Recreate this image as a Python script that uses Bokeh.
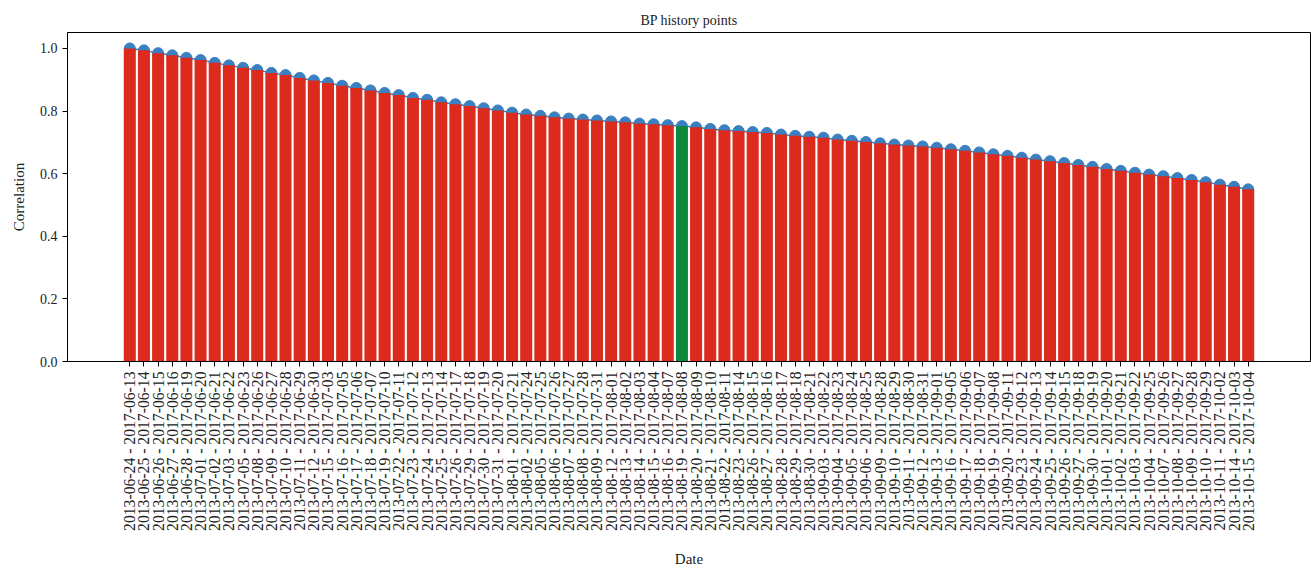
import math
from bokeh.plotting import figure
from bokeh.models import ColumnDataSource, FactorRange, Range1d, NumeralTickFormatter, FixedTicker
from bokeh.embed import file_html
from bokeh.resources import INLINE

starts = [
    "2013-06-24", "2013-06-25", "2013-06-26", "2013-06-27", "2013-06-28", "2013-07-01", "2013-07-02", "2013-07-03",
    "2013-07-05", "2013-07-08", "2013-07-09", "2013-07-10", "2013-07-11", "2013-07-12", "2013-07-15", "2013-07-16",
    "2013-07-17", "2013-07-18", "2013-07-19", "2013-07-22", "2013-07-23", "2013-07-24", "2013-07-25", "2013-07-26",
    "2013-07-29", "2013-07-30", "2013-07-31", "2013-08-01", "2013-08-02", "2013-08-05", "2013-08-06", "2013-08-07",
    "2013-08-08", "2013-08-09", "2013-08-12", "2013-08-13", "2013-08-14", "2013-08-15", "2013-08-16", "2013-08-19",
    "2013-08-20", "2013-08-21", "2013-08-22", "2013-08-23", "2013-08-26", "2013-08-27", "2013-08-28", "2013-08-29",
    "2013-08-30", "2013-09-03", "2013-09-04", "2013-09-05", "2013-09-06", "2013-09-09", "2013-09-10", "2013-09-11",
    "2013-09-12", "2013-09-13", "2013-09-16", "2013-09-17", "2013-09-18", "2013-09-19", "2013-09-20", "2013-09-23",
    "2013-09-24", "2013-09-25", "2013-09-26", "2013-09-27", "2013-09-30", "2013-10-01", "2013-10-02", "2013-10-03",
    "2013-10-04", "2013-10-07", "2013-10-08", "2013-10-09", "2013-10-10", "2013-10-11", "2013-10-14", "2013-10-15",
]
ends = [
    "2017-06-13", "2017-06-14", "2017-06-15", "2017-06-16", "2017-06-19", "2017-06-20", "2017-06-21", "2017-06-22",
    "2017-06-23", "2017-06-26", "2017-06-27", "2017-06-28", "2017-06-29", "2017-06-30", "2017-07-03", "2017-07-05",
    "2017-07-06", "2017-07-07", "2017-07-10", "2017-07-11", "2017-07-12", "2017-07-13", "2017-07-14", "2017-07-17",
    "2017-07-18", "2017-07-19", "2017-07-20", "2017-07-21", "2017-07-24", "2017-07-25", "2017-07-26", "2017-07-27",
    "2017-07-28", "2017-07-31", "2017-08-01", "2017-08-02", "2017-08-03", "2017-08-04", "2017-08-07", "2017-08-08",
    "2017-08-09", "2017-08-10", "2017-08-11", "2017-08-14", "2017-08-15", "2017-08-16", "2017-08-17", "2017-08-18",
    "2017-08-21", "2017-08-22", "2017-08-23", "2017-08-24", "2017-08-25", "2017-08-28", "2017-08-29", "2017-08-30",
    "2017-08-31", "2017-09-01", "2017-09-05", "2017-09-06", "2017-09-07", "2017-09-08", "2017-09-11", "2017-09-12",
    "2017-09-13", "2017-09-14", "2017-09-15", "2017-09-18", "2017-09-19", "2017-09-20", "2017-09-21", "2017-09-22",
    "2017-09-25", "2017-09-26", "2017-09-27", "2017-09-28", "2017-09-29", "2017-10-02", "2017-10-03", "2017-10-04",
]
correlation = [
    1.000, 0.994, 0.985, 0.978, 0.970, 0.963, 0.954, 0.946, 0.938, 0.931,
    0.922, 0.915, 0.906, 0.898, 0.890, 0.881, 0.874, 0.866, 0.858, 0.851,
    0.842, 0.836, 0.828, 0.822, 0.816, 0.809, 0.802, 0.795, 0.789, 0.785,
    0.780, 0.776, 0.773, 0.770, 0.767, 0.764, 0.760, 0.758, 0.755, 0.752,
    0.748, 0.743, 0.739, 0.736, 0.733, 0.730, 0.725, 0.721, 0.718, 0.715,
    0.709, 0.705, 0.701, 0.697, 0.693, 0.690, 0.687, 0.683, 0.678, 0.673,
    0.668, 0.662, 0.657, 0.651, 0.645, 0.640, 0.634, 0.628, 0.622, 0.615,
    0.609, 0.603, 0.597, 0.592, 0.586, 0.580, 0.573, 0.565, 0.558, 0.550,
]
highlight = "2013-08-19 - 2017-08-08"
y_ticks = [0.0, 0.2, 0.4, 0.6, 0.8, 1.0]

labels = [f"{s} - {e}" for s, e in zip(starts, ends)]
RED, GREEN, BLUE = "#dc2a1c", "#0f8a3c", "#3a7fbf"
colors = [GREEN if lab == highlight else RED for lab in labels]
src = ColumnDataSource(dict(x=labels, y=correlation, color=colors))

FONT = "Liberation Serif"
p = figure(
    width=1311, height=569,
    x_range=FactorRange(factors=labels, range_padding=3.9, range_padding_units="absolute"),
    y_range=Range1d(0, 1.051),
    output_backend="svg", toolbar_location=None,
    title="BP history points",
    min_border_left=67, min_border_right=1, min_border_top=32, min_border_bottom=208,
)
p.title.align = "center"
p.title.text_font = FONT
p.title.text_font_style = "normal"
p.title.text_font_size = "14px"
p.title.text_color = "#222222"

p.line(x="x", y="y", source=src, line_color=BLUE, line_width=1.5)
p.scatter(x="x", y="y", source=src, size=11, fill_color=BLUE, line_color=BLUE)
p.vbar(x="x", top="y", bottom=0, width=0.85, source=src, fill_color="color", line_color=None)

p.xgrid.visible = False
p.ygrid.visible = False
p.outline_line_color = "black"
p.outline_line_alpha = 1.0
p.outline_line_width = 1

for ax in (p.xaxis[0], p.yaxis[0]):
    ax.axis_line_color = "black"
    ax.major_tick_line_color = "black"
    ax.minor_tick_line_color = None
    ax.major_tick_out = 5
    ax.major_tick_in = 0
    ax.major_label_text_font = FONT
    ax.axis_label_text_font = FONT
    ax.axis_label_text_font_style = "normal"
    ax.axis_label_text_font_size = "15px"
    ax.major_label_text_color = "#222222"
    ax.axis_label_text_color = "#222222"

p.xaxis.axis_label = "Date"
p.xaxis.major_label_orientation = math.pi / 2
p.xaxis.major_label_text_font_size = "15.7px"
p.xaxis.major_label_standoff = 5
p.xaxis.axis_label_standoff = 17
p.xaxis.group_text_font_size = "0px"

p.yaxis.axis_label = "Correlation"
p.yaxis.ticker = FixedTicker(ticks=y_ticks)
p.yaxis.formatter = NumeralTickFormatter(format="0.0")
p.yaxis.major_label_text_font_size = "14px"
p.yaxis.major_label_standoff = 5
p.yaxis.axis_label_standoff = 10

open("out.html", "w").write(file_html(p, INLINE))
